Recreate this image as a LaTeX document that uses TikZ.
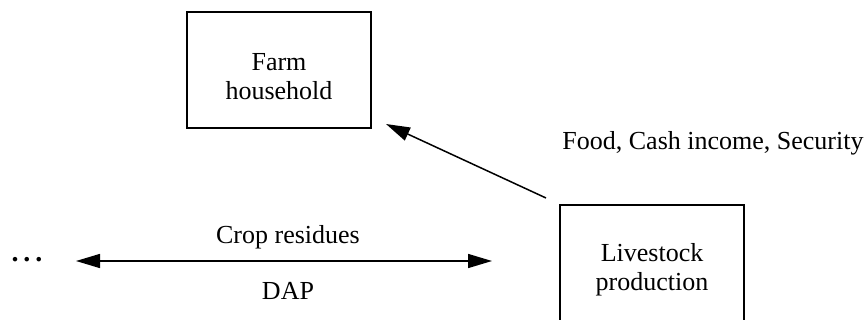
\documentclass[tikz,border=0pt]{standalone}
\usepackage{fontspec}
\setmainfont{Liberation Serif}
\usetikzlibrary{arrows.meta}
\begin{document}
\begin{tikzpicture}[x=0.5pt,y=-0.5pt,
  box/.style={draw,line width=0.75pt,minimum width=92pt,minimum height=58pt,inner sep=0pt},
  lbl/.style={inner sep=0pt,font=\fontsize{13}{14.5}\selectfont},
  conn/.style={line width=0.75pt,-{Triangle[length=12pt,width=7pt]}}]
\useasboundingbox (0,0) rectangle (865,320);
\node[box] (farm) at (279,70) {};
\node[lbl,align=center] (farmtxt) at ([yshift=-3.5pt]farm.center) {Farm\\household};
\node[box] (live) at (652,263) {};
\node[lbl,align=center] (livetxt) at ([yshift=-3.5pt]live.center) {Livestock\\production};
\coordinate (dtail) at (546,198);
\coordinate (dhead) at (386,124);
\draw[conn] (dtail) -- (dhead);
\node[lbl,anchor=base west] (food) at (562,150) {Food, Cash income, Security};
\coordinate (cl) at (76,261);
\coordinate (cr) at (492,261);
\draw[conn,{Triangle[length=12pt,width=7pt]}-{Triangle[length=12pt,width=7pt]}] (cl) -- (cr);
\node[lbl,anchor=base] (crop) at (288,243) {Crop residues};
\node[lbl,anchor=base] (dap) at (288,299) {DAP};
\node[lbl,anchor=base,font=\fontsize{14}{14}\selectfont\bfseries] (dots) at (27,261) {.\kern2.4pt.\kern2.4pt.};
\end{tikzpicture}
\end{document}
